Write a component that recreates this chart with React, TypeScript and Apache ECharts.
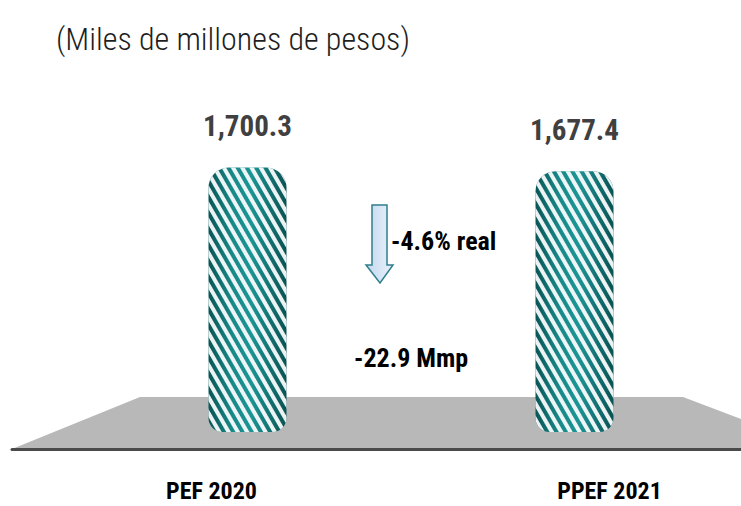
import React, { useEffect, useRef } from "react";
import * as echarts from "echarts";

const categories = ["PEF 2020", "PPEF 2021"];
const values = [1700.3, 1677.4];
const subtitle = "(Miles de millones de pesos)";
const changeReal = "-4.6% real";
const changeAbs = "-22.9 Mmp";

const FONT = "'Roboto Condensed', Roboto, 'Liberation Sans', sans-serif";

export default function App() {
  const ref = useRef<HTMLDivElement>(null);
  useEffect(() => {
    document.body.style.margin = "0";
    if (!ref.current) return;
    const chart = echarts.init(ref.current, null, { renderer: "svg" });
    const bodyGradient = new echarts.graphic.LinearGradient(0, 0, 1, 0, [
      { offset: 0, color: "#0a5556" },
      { offset: 0.3, color: "#17898a" },
      { offset: 0.55, color: "#1d9495" },
      { offset: 1, color: "#0a5253" },
    ]);
    chart.setOption({
      animation: false,
      grid: { left: 84, right: 3, top: 121, bottom: 74 },
      xAxis: {
        type: "category",
        data: categories,
        axisLine: { show: false },
        axisTick: { show: false },
        axisLabel: {
          margin: 47,
          formatter: (v: string, i: number) => (i === 0 ? `{a|${v}}` : `{b|${v}}`),
          rich: {
            a: { fontFamily: FONT, fontSize: 24, fontWeight: "bold", color: "#000", padding: [0, 72, 0, 0] },
            b: { fontFamily: FONT, fontSize: 24, fontWeight: "bold", color: "#000", padding: [0, 0, 0, 70] },
          },
        },
      },
      yAxis: { type: "value", min: 0, max: 2000, show: false, splitLine: { show: false } },
      series: [
        {
          type: "bar",
          data: values,
          barWidth: 78,
          z: 3,
          itemStyle: {
            color: bodyGradient,
            borderRadius: [20, 20, 14, 14],
            decal: {
              symbol: "rect",
              symbolSize: 1,
              dashArrayX: [1, 0],
              dashArrayY: [3.2, 3.6],
              rotation: Math.PI / 3,
              color: "rgba(255,255,255,0.92)",
            },
          },
          label: {
            show: true,
            position: "top",
            distance: 27,
            fontFamily: FONT,
            fontSize: 29,
            fontWeight: "bold",
            color: "#404040",
            formatter: (p: any) =>
              Number(p.value).toLocaleString("en-US", { minimumFractionDigits: 1, maximumFractionDigits: 1 }),
          },
        },
      ],
      graphic: [
        {
          type: "text",
          z: 5,
          x: 56,
          y: 39,
          style: {
            text: subtitle,
            fontFamily: FONT,
            fontSize: 32,
            fontWeight: 300,
            fill: "#1e1e1e",
            align: "left",
            verticalAlign: "middle",
          },
        },
        {
          type: "polygon",
          z: 0,
          shape: { points: [[140, 397], [683, 397], [741, 419], [741, 449], [12, 449]] },
          style: { fill: "#b8b8b8" },
        },
        {
          type: "line",
          z: 1,
          shape: { x1: 12, y1: 449.5, x2: 741, y2: 449.5 },
          style: { stroke: "#4a4a4a", lineWidth: 3, lineCap: "round" },
        },
        {
          type: "polygon",
          z: 5,
          shape: {
            points: [[372, 205], [387, 205], [387, 265], [393, 265], [380, 283], [366, 265], [372, 265]],
          },
          style: {
            fill: new echarts.graphic.LinearGradient(0, 0, 1, 0, [
              { offset: 0, color: "#c3d7ee" },
              { offset: 1, color: "#eaf2fb" },
            ]),
            stroke: "#2f7f8c",
            lineWidth: 1.5,
          },
        },
        {
          type: "text",
          z: 5,
          x: 391,
          y: 241,
          style: {
            text: changeReal,
            fontFamily: FONT,
            fontSize: 26,
            fontWeight: "bold",
            fill: "#000",
            align: "left",
            verticalAlign: "middle",
          },
        },
        {
          type: "text",
          z: 5,
          x: 354,
          y: 358,
          style: {
            text: changeAbs,
            fontFamily: FONT,
            fontSize: 26,
            fontWeight: "bold",
            fill: "#000",
            align: "left",
            verticalAlign: "middle",
          },
        },
      ],
    });
    return () => chart.dispose();
  }, []);
  return <div ref={ref} style={{ width: 741, height: 506 }} />;
}
